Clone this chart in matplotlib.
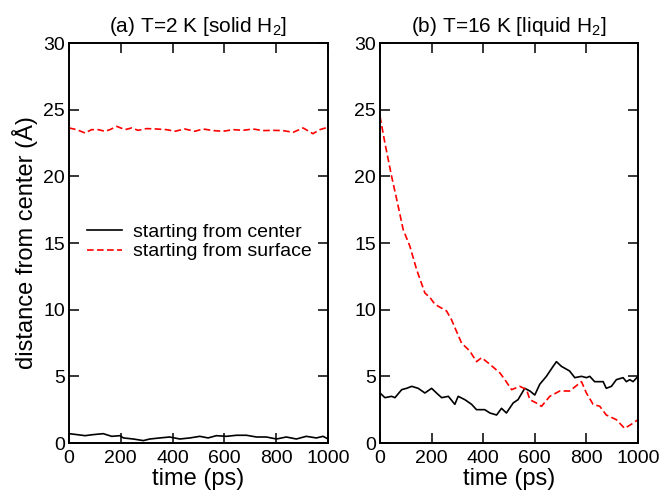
import matplotlib
matplotlib.use("Agg")
import matplotlib.pyplot as plt

plt.rcParams['font.family'] = ['Liberation Sans', 'DejaVu Sans']
plt.rcParams['mathtext.fontset'] = 'custom'
plt.rcParams['mathtext.rm'] = 'Liberation Sans'

# Panel (a) T=2 K
t_a_center = [0, 30, 62, 94, 132, 165, 197, 210, 248, 287, 312, 351, 389, 428, 467, 505,
              537, 569, 608, 647, 685, 724, 762, 801, 839, 878, 916, 955, 981, 1000]
d_a_center = [0.7, 0.63, 0.55, 0.63, 0.7, 0.5, 0.55, 0.38, 0.3, 0.18, 0.3, 0.38, 0.45, 0.3, 0.38, 0.5,
              0.38, 0.55, 0.5, 0.58, 0.58, 0.45, 0.45, 0.3, 0.45, 0.3, 0.5, 0.38, 0.5, 0.3]
t_a_surface = [0, 30, 62, 87, 113, 139, 158, 184, 216, 242, 267, 299, 338, 377, 409, 447, 486,
               518, 557, 595, 634, 672, 711, 749, 788, 826, 865, 904, 942, 968, 1000]
d_a_surface = [23.63, 23.5, 23.25, 23.5, 23.5, 23.38, 23.5, 23.75, 23.5, 23.63, 23.45, 23.58, 23.55,
               23.5, 23.38, 23.55, 23.38, 23.55, 23.43, 23.38, 23.5, 23.45, 23.55, 23.43, 23.45,
               23.43, 23.3, 23.63, 23.2, 23.5, 23.68]

# Panel (b) T=16 K
t_b_center = [0, 19, 45, 58, 84, 103, 123, 148, 174, 200, 219, 239, 265, 290, 303, 329, 355, 374,
              406, 426, 452, 471, 490, 516, 535, 561, 581, 600, 619, 645, 671, 684, 703, 735, 755,
              781, 800, 813, 832, 865, 877, 897, 916, 942, 955, 968, 981, 1000]
d_b_center = [3.75, 3.4, 3.5, 3.4, 4.0, 4.1, 4.25, 4.1, 3.75, 4.1, 3.75, 3.4, 3.5, 2.9, 3.5, 3.25,
              2.9, 2.5, 2.5, 2.25, 2.1, 2.6, 2.25, 3.0, 3.25, 4.1, 3.9, 3.6, 4.4, 5.0, 5.75, 6.1,
              5.75, 5.4, 4.9, 5.0, 4.9, 5.0, 4.6, 4.6, 4.1, 4.25, 4.75, 4.9, 4.6, 4.75, 4.6, 5.0]
t_b_surface = [0, 19, 45, 65, 90, 116, 142, 174, 194, 213, 258, 277, 316, 348, 374, 394, 426, 465,
               484, 510, 542, 568, 581, 606, 626, 658, 697, 735, 781, 800, 826, 852, 877, 916, 948,
               974, 1000]
d_b_surface = [24.5, 22.5, 20.0, 18.25, 16.0, 14.75, 13.0, 11.25, 10.9, 10.4, 9.9, 9.25, 7.5, 6.9,
               6.1, 6.4, 5.9, 5.25, 4.75, 4.0, 4.25, 4.0, 3.25, 3.0, 2.75, 3.5, 3.9, 3.9, 4.6, 3.75,
               2.9, 2.75, 2.1, 1.75, 1.1, 1.4, 1.75]

titles = ["(a) T=2 K [solid H$_2$]", "(b) T=16 K [liquid H$_2$]"]
xticks = [0, 200, 400, 600, 800, 1000]
yticks = [0, 5, 10, 15, 20, 25, 30]

fig = plt.figure(figsize=(6.64, 4.93), dpi=100)
ax1 = fig.add_axes([69/664, 50/493, 259/664, 400/493])
ax2 = fig.add_axes([380/664, 50/493, 258/664, 400/493])

dash = (0, (4, 2))
ax1.plot(t_a_center, d_a_center, color='black', lw=1.2, label='starting from center')
ax1.plot(t_a_surface, d_a_surface, color='red', lw=1.2, linestyle=dash, label='starting from surface')
ax2.plot(t_b_center, d_b_center, color='black', lw=1.2)
ax2.plot(t_b_surface, d_b_surface, color='red', lw=1.2, linestyle=dash)

for ax, title in zip([ax1, ax2], titles):
    ax.set_xlim(0, 1000)
    ax.set_ylim(0, 30)
    ax.set_xticks(xticks)
    ax.set_yticks(yticks)
    ax.tick_params(direction='in', length=7, width=1.1, top=True, right=True, labelsize=14)
    ax.tick_params(axis='x', pad=5)
    ax.tick_params(axis='y', pad=3)
    for s in ax.spines.values():
        s.set_linewidth(1.4)
    ax.set_title(title, fontsize=15, pad=8)
    ax.set_xlabel('time (ps)', fontsize=17, labelpad=1)

ax1.set_ylabel('distance from center (Å)', fontsize=17, labelpad=4)

ax1.legend(loc='center left', bbox_to_anchor=(0.0695, 0.503), frameon=False, fontsize=14,
           borderpad=0, borderaxespad=0, handlelength=1.8, handletextpad=0.57, labelspacing=0.1)

fig.savefig('out.png', dpi=100)
